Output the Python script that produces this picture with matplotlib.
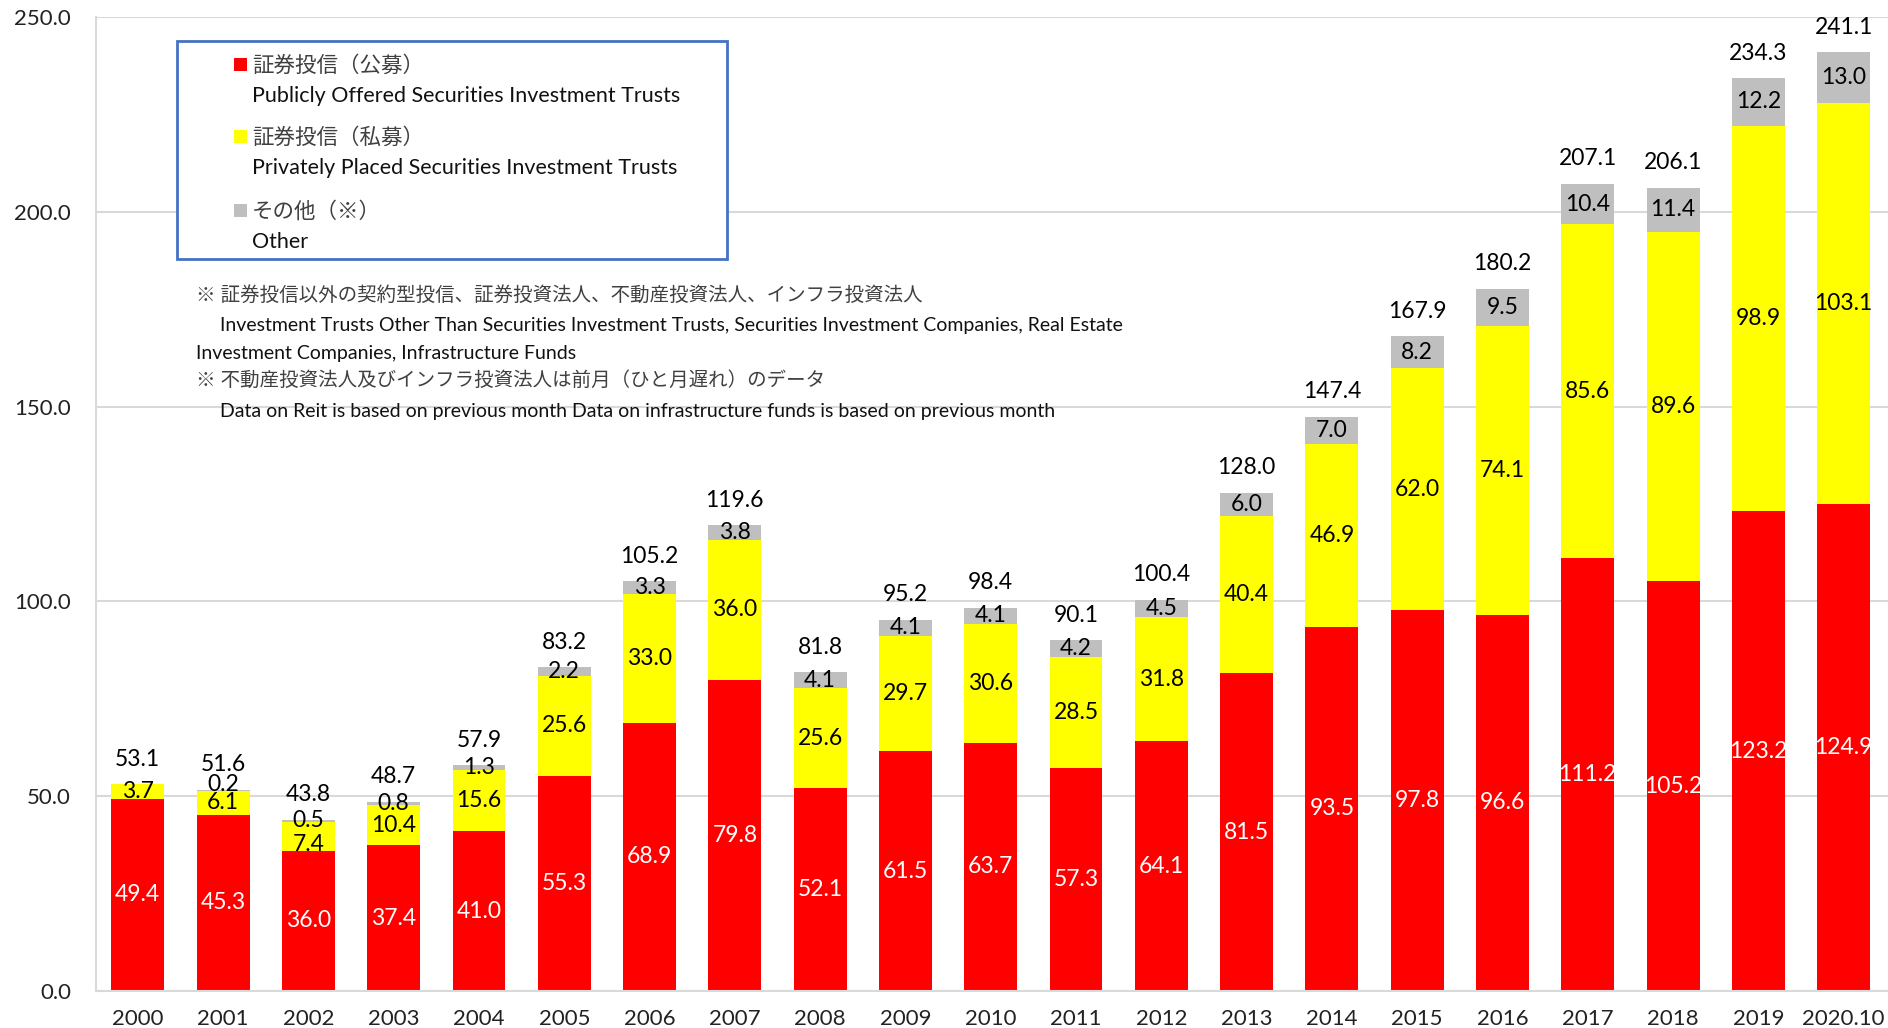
#!/usr/bin/env python3

import matplotlib
matplotlib.use('Agg')
import matplotlib.pyplot as plt
import numpy as np

plt.rcParams['font.family'] = ['Lato', 'Noto Sans CJK JP', 'DejaVu Sans']

years = ['2000', '2001', '2002', '2003', '2004', '2005', '2006', '2007',
         '2008', '2009', '2010', '2011', '2012', '2013', '2014', '2015',
         '2016', '2017', '2018', '2019', '2020.10']
public = [49.4, 45.3, 36.0, 37.4, 41.0, 55.3, 68.9, 79.8, 52.1, 61.5, 63.7,
          57.3, 64.1, 81.5, 93.5, 97.8, 96.6, 111.2, 105.2, 123.2, 124.9]
private = [3.7, 6.1, 7.4, 10.4, 15.6, 25.6, 33.0, 36.0, 25.6, 29.7, 30.6,
           28.5, 31.8, 40.4, 46.9, 62.0, 74.1, 85.6, 89.6, 98.9, 103.1]
other = [0.0, 0.2, 0.5, 0.8, 1.3, 2.2, 3.3, 3.8, 4.1, 4.1, 4.1,
         4.2, 4.5, 6.0, 7.0, 8.2, 9.5, 10.4, 11.4, 12.2, 13.0]
totals = [53.1, 51.6, 43.8, 48.7, 57.9, 83.2, 105.2, 119.6, 81.8, 95.2, 98.4,
          90.1, 100.4, 128.0, 147.4, 167.9, 180.2, 207.1, 206.1, 234.3, 241.1]

red = "#ff0000"
yellow = "#ffff00"
gray = "#bfbfbf"
grid_gray = "#d9d9d9"

W, H = 1888, 1028
fig = plt.figure(figsize=(W / 100, H / 100), dpi=100)
ax = fig.add_axes([96 / W, 1 - 991 / H, 1 - 96 / W, (991 - 17) / H])

x = np.arange(len(years))
pub = np.array(public)
pri = np.array(private)
oth = np.array(other)
width = 0.62

ax.bar(x, pub, width, color=red, zorder=2)
ax.bar(x, pri, width, bottom=pub, color=yellow, zorder=2)
ax.bar(x, oth, width, bottom=pub + pri, color=gray, zorder=2)

fs = 16.5
for i in range(len(years)):
    ax.text(x[i], pub[i] / 2, '{:.1f}'.format(pub[i]), color='white',
            ha='center', va='center', fontsize=fs, zorder=3)

    # tiny segments: nudge labels apart a little, as the original does
    dy_pri = -6 if (pri[i] < 8 and oth[i] >= 0.5) else 0
    dy_oth = 4 if (0 < oth[i] < 0.3) else 0
    ax.annotate('{:.1f}'.format(pri[i]), xy=(x[i], pub[i] + pri[i] / 2),
                xytext=(0, dy_pri), textcoords='offset points',
                ha='center', va='center', fontsize=fs, zorder=3)
    if oth[i] > 0:
        ax.annotate('{:.1f}'.format(oth[i]),
                    xy=(x[i], pub[i] + pri[i] + oth[i] / 2),
                    xytext=(0, dy_oth), textcoords='offset points',
                    ha='center', va='center', fontsize=fs, zorder=3)
    ax.annotate('{:.1f}'.format(totals[i]),
                xy=(x[i], pub[i] + pri[i] + oth[i]),
                xytext=(0, 18), textcoords='offset points',
                ha='center', va='center', fontsize=fs, zorder=3)

ax.set_xlim(-0.49, 20.52)
ax.set_ylim(0, 250)
ax.set_yticks(np.arange(0, 251, 50))
ax.set_yticklabels(['{:.1f}'.format(v) for v in np.arange(0, 251, 50)])
ax.set_xticks(x)
ax.set_xticklabels(years)
ax.tick_params(axis='both', length=0, labelsize=16, colors='#222222')
ax.tick_params(axis='y', pad=18)
ax.tick_params(axis='x', pad=13)

ax.yaxis.grid(True, color=grid_gray, linewidth=1.5, zorder=0)
ax.set_axisbelow(True)
for s in ['top', 'right']:
    ax.spines[s].set_visible(False)
ax.spines['left'].set_color(grid_gray)
ax.spines['left'].set_linewidth(1.5)
ax.spines['bottom'].set_color(grid_gray)
ax.spines['bottom'].set_linewidth(1.5)

# Legend box drawn by hand (two-line entries)
box = plt.Rectangle((177 / W, 1 - 259 / H), (727 - 177) / W, (259 - 41) / H,
                    transform=fig.transFigure, fill=True, facecolor='white',
                    edgecolor='#4472c4', linewidth=2, zorder=5)
fig.patches.append(box)

entries = [(red, '証券投信（公募）', 'Publicly Offered Securities Investment Trusts', 65),
           (yellow, '証券投信（私募）', 'Privately Placed Securities Investment Trusts', 137),
           (gray, 'その他（※）', 'Other', 211)]
lfs = 15.5
for col, jp, en, ypix in entries:
    fig.patches.append(plt.Rectangle((234 / W, 1 - (ypix + 6) / H), 13 / W, 13 / H,
                                     transform=fig.transFigure, facecolor=col,
                                     edgecolor='none', zorder=6))
    fig.text(252 / W, 1 - ypix / H, jp, fontsize=lfs, color='#404040',
             va='center', ha='left', zorder=6)
    fig.text(252 / W, 1 - (ypix + 31) / H, en, fontsize=lfs, color='#111111',
             va='center', ha='left', zorder=6)

nfs = 14
notes = [(196, 294, '※ 証券投信以外の契約型投信、証券投資法人、不動産投資法人、インフラ投資法人', '#404040'),
         (220, 325, 'Investment Trusts Other Than Securities Investment Trusts, '
                    'Securities Investment Companies, Real Estate', '#111111'),
         (196, 353, 'Investment Companies, Infrastructure Funds', '#111111'),
         (196, 379, '※ 不動産投資法人及びインフラ投資法人は前月（ひと月遅れ）のデータ', '#404040'),
         (220, 412, 'Data on Reit is based on previous month Data on infrastructure '
                    'funds is based on previous month', '#111111')]
for xp, yp, t, c in notes:
    fig.text(xp / W, 1 - yp / H, t, fontsize=nfs, color=c, va='center', ha='left')

fig.savefig('out.png', dpi=100)
